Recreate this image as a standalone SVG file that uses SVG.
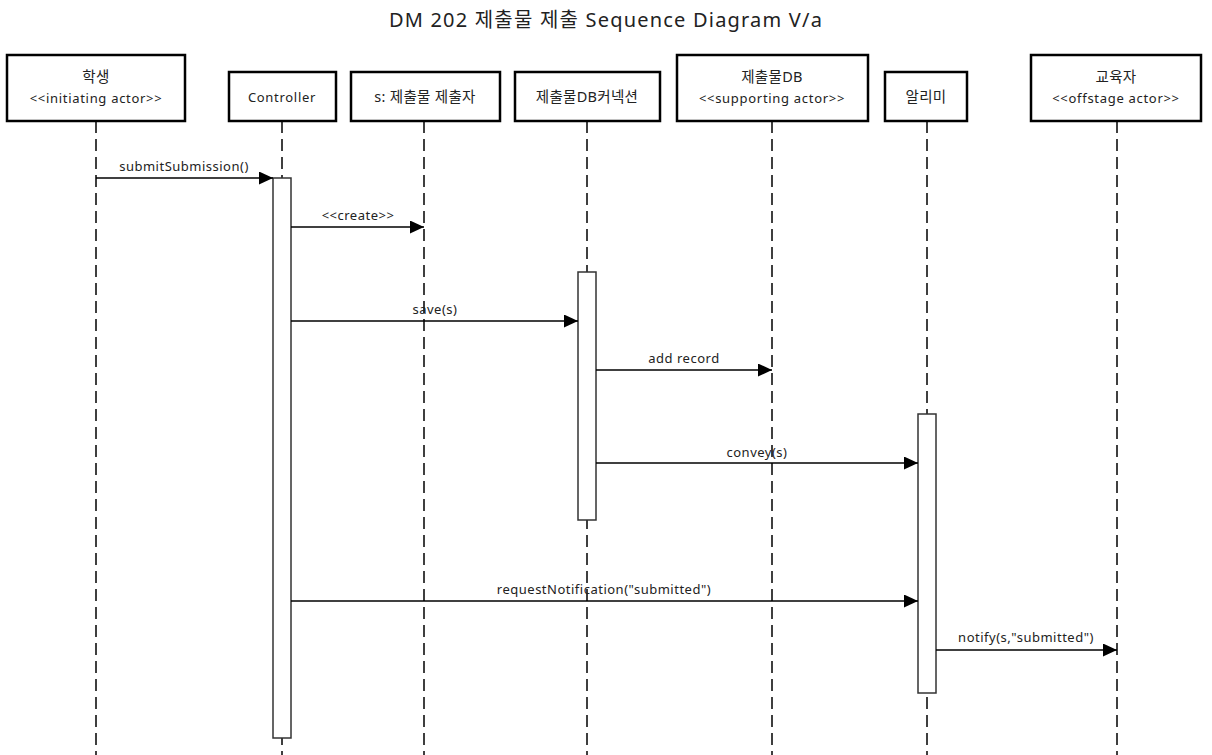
<svg xmlns="http://www.w3.org/2000/svg" width="1212" height="755" viewBox="0 0 1212 755">
<style>
text{font-family:"Noto Sans","Noto Sans CJK KR",sans-serif;fill:#222;}
.t{font-size:20px;text-anchor:middle;letter-spacing:1.2px;}
.n{font-size:13px;text-anchor:middle;letter-spacing:0.7px;}
.k{font-size:14.5px;text-anchor:middle;letter-spacing:0.3px;}
.m{font-size:13px;text-anchor:middle;letter-spacing:0.5px;}
.box{fill:#fff;stroke:#000;stroke-width:2.5;}
.life{stroke:#000;stroke-width:1.5;stroke-dasharray:12 6;fill:none;}
.act{fill:#fff;stroke:#333;stroke-width:1.5;}
.msg{stroke:#000;stroke-width:1.3;fill:none;marker-end:url(#arr);}
</style>
<defs>
<marker id="arr" markerUnits="userSpaceOnUse" markerWidth="15" markerHeight="13" refX="14" refY="6.5" orient="auto">
<path d="M0,0 L14,6.5 L0,13 z" fill="#000"/>
</marker>
</defs>
<rect width="1212" height="755" fill="#fff"/>
<text class="t" x="606" y="27">DM 202 제출물 제출 Sequence Diagram V/a</text>

<g id="lifelines">
<line class="life" x1="96" y1="121" x2="96" y2="755"/>
<line class="life" x1="282" y1="121" x2="282" y2="755"/>
<line class="life" x1="424" y1="121" x2="424" y2="755"/>
<line class="life" x1="587" y1="121" x2="587" y2="755"/>
<line class="life" x1="772" y1="121" x2="772" y2="755"/>
<line class="life" x1="927" y1="121" x2="927" y2="755"/>
<line class="life" x1="1117" y1="121" x2="1117" y2="755"/>
</g>

<g id="student">
<rect class="box" x="7" y="55" width="178" height="66"/>
<text class="k" x="96" y="82">학생</text>
<text class="n" x="96" y="103">&lt;&lt;initiating actor&gt;&gt;</text>
</g>
<g id="controller">
<rect class="box" x="229" y="72" width="107" height="49"/>
<text class="n" x="282" y="102">Controller</text>
</g>
<g id="submitter">
<rect class="box" x="351" y="72" width="149" height="49"/>
<text class="k" x="425" y="102">s: 제출물 제출자</text>
</g>
<g id="dbconn">
<rect class="box" x="515" y="72" width="145" height="49"/>
<text class="k" x="587" y="102">제출물DB커넥션</text>
</g>
<g id="db">
<rect class="box" x="677" y="55" width="191" height="66"/>
<text class="k" x="772" y="82">제출물DB</text>
<text class="n" x="772" y="103">&lt;&lt;supporting actor&gt;&gt;</text>
</g>
<g id="notifier">
<rect class="box" x="885" y="72" width="82" height="49"/>
<text class="k" x="926" y="102">알리미</text>
</g>
<g id="educator">
<rect class="box" x="1031" y="55" width="170" height="66"/>
<text class="k" x="1116" y="82">교육자</text>
<text class="n" x="1116" y="103">&lt;&lt;offstage actor&gt;&gt;</text>
</g>

<g id="activations">
<rect class="act" x="273" y="178" width="18" height="560"/>
<rect class="act" x="578" y="272" width="18" height="248"/>
<rect class="act" x="918" y="414" width="18" height="279"/>
</g>

<g id="connectors">
<line class="msg" x1="96" y1="178" x2="273" y2="178"/>
<text class="m" x="184" y="171">submitSubmission()</text>
<line class="msg" x1="291" y1="227" x2="424" y2="227"/>
<text class="m" x="358" y="220">&lt;&lt;create&gt;&gt;</text>
<line class="msg" x1="291" y1="321" x2="578" y2="321"/>
<text class="m" x="435" y="314">save(s)</text>
<line class="msg" x1="596" y1="370" x2="772" y2="370"/>
<text class="m" x="684" y="363">add record</text>
<line class="msg" x1="596" y1="463" x2="918" y2="463"/>
<text class="m" x="757" y="457">convey(s)</text>
<line class="msg" x1="291" y1="601" x2="918" y2="601"/>
<text class="m" x="604" y="594">requestNotification("submitted")</text>
<line class="msg" x1="936" y1="650" x2="1117" y2="650"/>
<text class="m" x="1026" y="642">notify(s,"submitted")</text>
</g>
</svg>
